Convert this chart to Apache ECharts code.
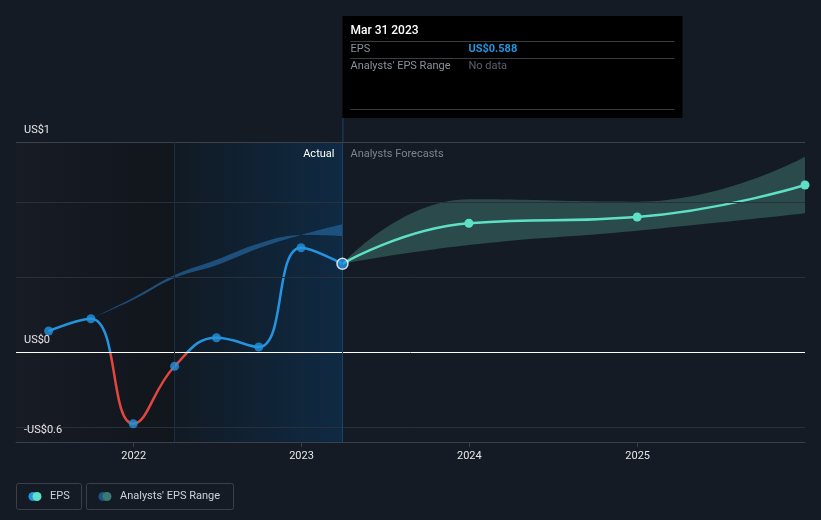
<!DOCTYPE html>
<html>
<head>
<meta charset="utf-8">
<script src="https://cdn.jsdelivr.net/npm/echarts@6/dist/echarts.min.js"></script>
<style>
html,body{margin:0;padding:0;background:#151b25;}
#c{width:821px;height:520px;}
</style>
</head>
<body>
<div id="c"></div>
<script>
// ---- data ----
const actualDates = ['2021-06-30','2021-09-30','2021-12-31','2022-03-31','2022-06-30','2022-09-30','2022-12-31','2023-03-31'];
const epsActual = [0.14, 0.222, -0.478, -0.095, 0.095, 0.033, 0.695, 0.588];

const forecastDates = ['2023-03-31','2023-12-31','2024-12-31','2025-12-31'];
const epsForecast = [0.588, 0.858, 0.90, 1.113];
const rangeLow = [0.588, 0.713, 0.809, 0.925];
const rangeHigh = [0.588, 1.018, 1.002, 1.302];

const pastBandDates = ['2021-09-30','2021-12-31','2022-03-31','2022-06-30','2022-09-30','2022-12-31','2023-03-31'];
const pastBandA = [0.222, 0.362, 0.513, 0.615, 0.724, 0.78, 0.773];
const pastBandB = [0.222, 0.348, 0.493, 0.578, 0.691, 0.78, 0.851];

const yTickValues = [1.4, 0, -0.6];
const yTickLabels = ['US$1', 'US$0', '-US$0.6'];
const yGridValues = [1.0, 0.5, -0.5];

const xMin = '2021-04-20';
const xMax = '2025-12-31';
const actualStart = '2022-03-31';
const lastActual = '2023-03-31';

const tooltipDate = 'Mar 31 2023';
const tooltipEps = 'US$0.588';

// ---- chart ----
const FONT = 'Roboto, "Noto Sans", sans-serif';
const chart = echarts.init(document.getElementById('c'), null, {renderer: 'canvas'});
const YEAR = 365 * 24 * 3600 * 1000;
const pair = (ds, vs) => ds.map((d, i) => [d, vs[i]]);

const option = {
  backgroundColor: '#151b25',
  animation: false,
  textStyle: {fontFamily: FONT},
  grid: {left: 16, right: 16, top: 142, bottom: 78},
  xAxis: {
    type: 'time', min: xMin, max: xMax, minInterval: YEAR, maxInterval: YEAR * 1.01,
    axisLine: {show: true, onZero: false, lineStyle: {color: '#3c4149', width: 1}},
    axisTick: {show: true, length: 5, lineStyle: {color: '#3c4149'}},
    axisLabel: {color: '#e6e6e6', fontSize: 11, margin: 9, formatter: '{yyyy}', showMinLabel: false, showMaxLabel: false, fontFamily: FONT},
    splitLine: {show: false}
  },
  yAxis: {
    type: 'value', min: -0.6, max: 1.4,
    axisLine: {show: false}, axisTick: {show: false}, axisLabel: {show: false}, splitLine: {show: false}
  },
  series: [
    // 0: backgrounds + grid lines
    {
      type: 'line', data: [], silent: true, z: 1,
      markArea: {
        silent: true,
        data: [
          [{xAxis: xMin, itemStyle: {color: {type: 'linear', x: 0, y: 0, x2: 1, y2: 0, colorStops: [{offset: 0, color: '#171c25'}, {offset: 1, color: '#11151c'}]}}}, {xAxis: actualStart}],
          [{xAxis: actualStart, itemStyle: {color: {type: 'linear', x: 0, y: 0, x2: 1, y2: 0, colorStops: [{offset: 0, color: '#111a24'}, {offset: 1, color: '#0f2a43'}]}}}, {xAxis: lastActual}]
        ]
      },
      markLine: {
        silent: true, symbol: 'none', label: {show: false},
        data: [
          {yAxis: 1.4, lineStyle: {color: '#3d424a', width: 1, type: 'solid'}},
          ...yGridValues.map(v => ({yAxis: v, lineStyle: {color: '#2a3039', width: 1, type: 'solid'}})),
          {yAxis: 0, lineStyle: {color: '#ffffff', width: 1, type: 'solid'}},
          {xAxis: actualStart, lineStyle: {color: '#1c2d3e', width: 1, type: 'solid'}},
          {xAxis: lastActual, lineStyle: {color: '#1b4467', width: 1, type: 'solid'}}
        ]
      }
    },
    // 1,2: past band
    {
      type: 'line', stack: 'past', stackStrategy: 'all', smooth: 0.4, symbol: 'none',
      lineStyle: {width: 0}, data: pair(pastBandDates, pastBandA), silent: true
    },
    {
      type: 'line', stack: 'past', stackStrategy: 'all', smooth: 0.4, symbol: 'none',
      lineStyle: {width: 0}, areaStyle: {color: '#1f5585', opacity: 0.9},
      data: pastBandDates.map((d, i) => [d, pastBandB[i] - pastBandA[i]]), silent: true
    },
    // 3,4: forecast range
    {
      type: 'line', stack: 'fc', smooth: 0.5, symbol: 'none',
      lineStyle: {width: 0}, data: pair(forecastDates, rangeLow), silent: true
    },
    {
      type: 'line', stack: 'fc', smooth: 0.5, symbol: 'none',
      lineStyle: {width: 0}, areaStyle: {color: '#2a4a4b', opacity: 1},
      data: forecastDates.map((d, i) => [d, rangeHigh[i] - rangeLow[i]]), silent: true
    },
    // 5: forecast line
    {
      type: 'line', smooth: 0.5, symbol: 'circle', symbolSize: 9, clip: false,
      lineStyle: {color: '#5ee0c6', width: 2.5}, itemStyle: {color: '#5ee0c6'},
      data: pair(forecastDates, epsForecast).map((p, i) => i === 0 ? {value: p, symbol: 'none'} : p)
    },
    // 6: actual line
    {
      type: 'line', smooth: 0.45, showSymbol: false,
      lineStyle: {width: 2.5, color: '#2394df'}, data: pair(actualDates, epsActual)
    },
    // 7: actual markers
    {
      type: 'scatter', symbolSize: 9, itemStyle: {color: '#2394df'},
      data: pair(actualDates, epsActual).map((p, i) => i === actualDates.length - 1
        ? {value: p, symbolSize: 11, itemStyle: {color: '#2394df', borderColor: '#ffffff', borderWidth: 1.5}} : p),
      z: 5
    }
  ]
};
chart.setOption(option);

// ---- graphics positioned via the chart's scales ----
const px = (d, v) => chart.convertToPixel({xAxisIndex: 0, yAxisIndex: 0}, [d, v]);
const lastPt = px(lastActual, 1.4);
const topY = lastPt[1];
const botY = px(lastActual, -0.6)[1];
const zeroY = px(lastActual, 0)[1];
const f = (zeroY - topY) / (botY - topY);

// red below zero, blue above, via a gradient tied to the y scale
chart.setOption({series: [{}, {}, {}, {}, {}, {}, {
  lineStyle: {color: {type: 'linear', global: true, x: 0, y: topY, x2: 0, y2: botY, colorStops: [
    {offset: 0, color: '#2394df'}, {offset: f, color: '#2394df'}, {offset: f, color: '#e2463d'}, {offset: 1, color: '#e2463d'}]}}
}]});

const gridLeft = 16;
const g = [];
const Z = 100;
// y labels
yTickValues.forEach((v, i) => {
  const p = px(xMin, v);
  g.push({type: 'text', z: Z, x: gridLeft + 8, y: p[1] - 12, silent: true,
    style: {text: yTickLabels[i], fill: '#e6e6e6', font: '11px ' + FONT, verticalAlign: 'middle'}});
});
// Actual / forecast labels
g.push({type: 'text', z: Z, x: lastPt[0] - 8, y: topY + 12, silent: true,
  style: {text: 'Actual', fill: '#ffffff', font: '11px ' + FONT, align: 'right', verticalAlign: 'middle'}});
g.push({type: 'text', z: Z, x: lastPt[0] + 8, y: topY + 12, silent: true,
  style: {text: 'Analysts Forecasts', fill: '#7d828b', font: '11px ' + FONT, align: 'left', verticalAlign: 'middle'}});
// tooltip
const tx = lastPt[0];
g.push({type: 'line', z: Z, silent: true, shape: {x1: tx + 0.5, y1: 118, x2: tx + 0.5, y2: topY}, style: {stroke: '#1b4467', lineWidth: 1}});
g.push({type: 'rect', z: Z, silent: true, shape: {x: tx, y: 16, width: 340, height: 102}, style: {fill: '#000000'}});
g.push({type: 'text', z: Z, silent: true, x: tx + 8, y: 31, style: {text: tooltipDate, fill: '#ffffff', font: '500 12px ' + FONT, verticalAlign: 'middle'}});
[41.5, 58.5, 109.5].forEach(y => g.push({type: 'line', z: Z, silent: true, shape: {x1: tx + 8, y1: y, x2: tx + 332, y2: y}, style: {stroke: '#3a3d42', lineWidth: 1}}));
g.push({type: 'text', z: Z, silent: true, x: tx + 8, y: 49, style: {text: 'EPS', fill: '#8b9099', font: '11px ' + FONT, verticalAlign: 'middle'}});
g.push({type: 'text', z: Z, silent: true, x: tx + 126, y: 49, style: {text: tooltipEps, fill: '#2394df', font: 'bold 11px ' + FONT, verticalAlign: 'middle'}});
g.push({type: 'text', z: Z, silent: true, x: tx + 8, y: 66, style: {text: "Analysts' EPS Range", fill: '#8b9099', font: '11px ' + FONT, verticalAlign: 'middle'}});
g.push({type: 'text', z: Z, silent: true, x: tx + 126, y: 66, style: {text: 'No data', fill: '#5c6068', font: '11px ' + FONT, verticalAlign: 'middle'}});
// legend
const legends = [
  {x: 16, w: 65, text: 'EPS', c1: '#2394df', c2: '#5ee0c6'},
  {x: 86, w: 147, text: "Analysts' EPS Range", c1: '#1e5484', c2: '#3b7a74'}
];
legends.forEach(l => {
  g.push({type: 'rect', z: Z, silent: true, shape: {x: l.x + 0.5, y: 483.5, width: l.w, height: 26, r: 2}, style: {fill: 'none', stroke: '#3a3f48', lineWidth: 1}});
  g.push({type: 'circle', z: Z, silent: true, shape: {cx: l.x + 17, cy: 496.5, r: 4.5}, style: {fill: l.c1}});
  g.push({type: 'circle', z: Z, silent: true, shape: {cx: l.x + 21, cy: 496.5, r: 4.5}, style: {fill: l.c2}});
  g.push({type: 'text', z: Z, silent: true, x: l.x + 34, y: 496.5, style: {text: l.text, fill: '#cfd2d6', font: '11px ' + FONT, verticalAlign: 'middle'}});
});
chart.setOption({graphic: g});
</script>
</body>
</html>
